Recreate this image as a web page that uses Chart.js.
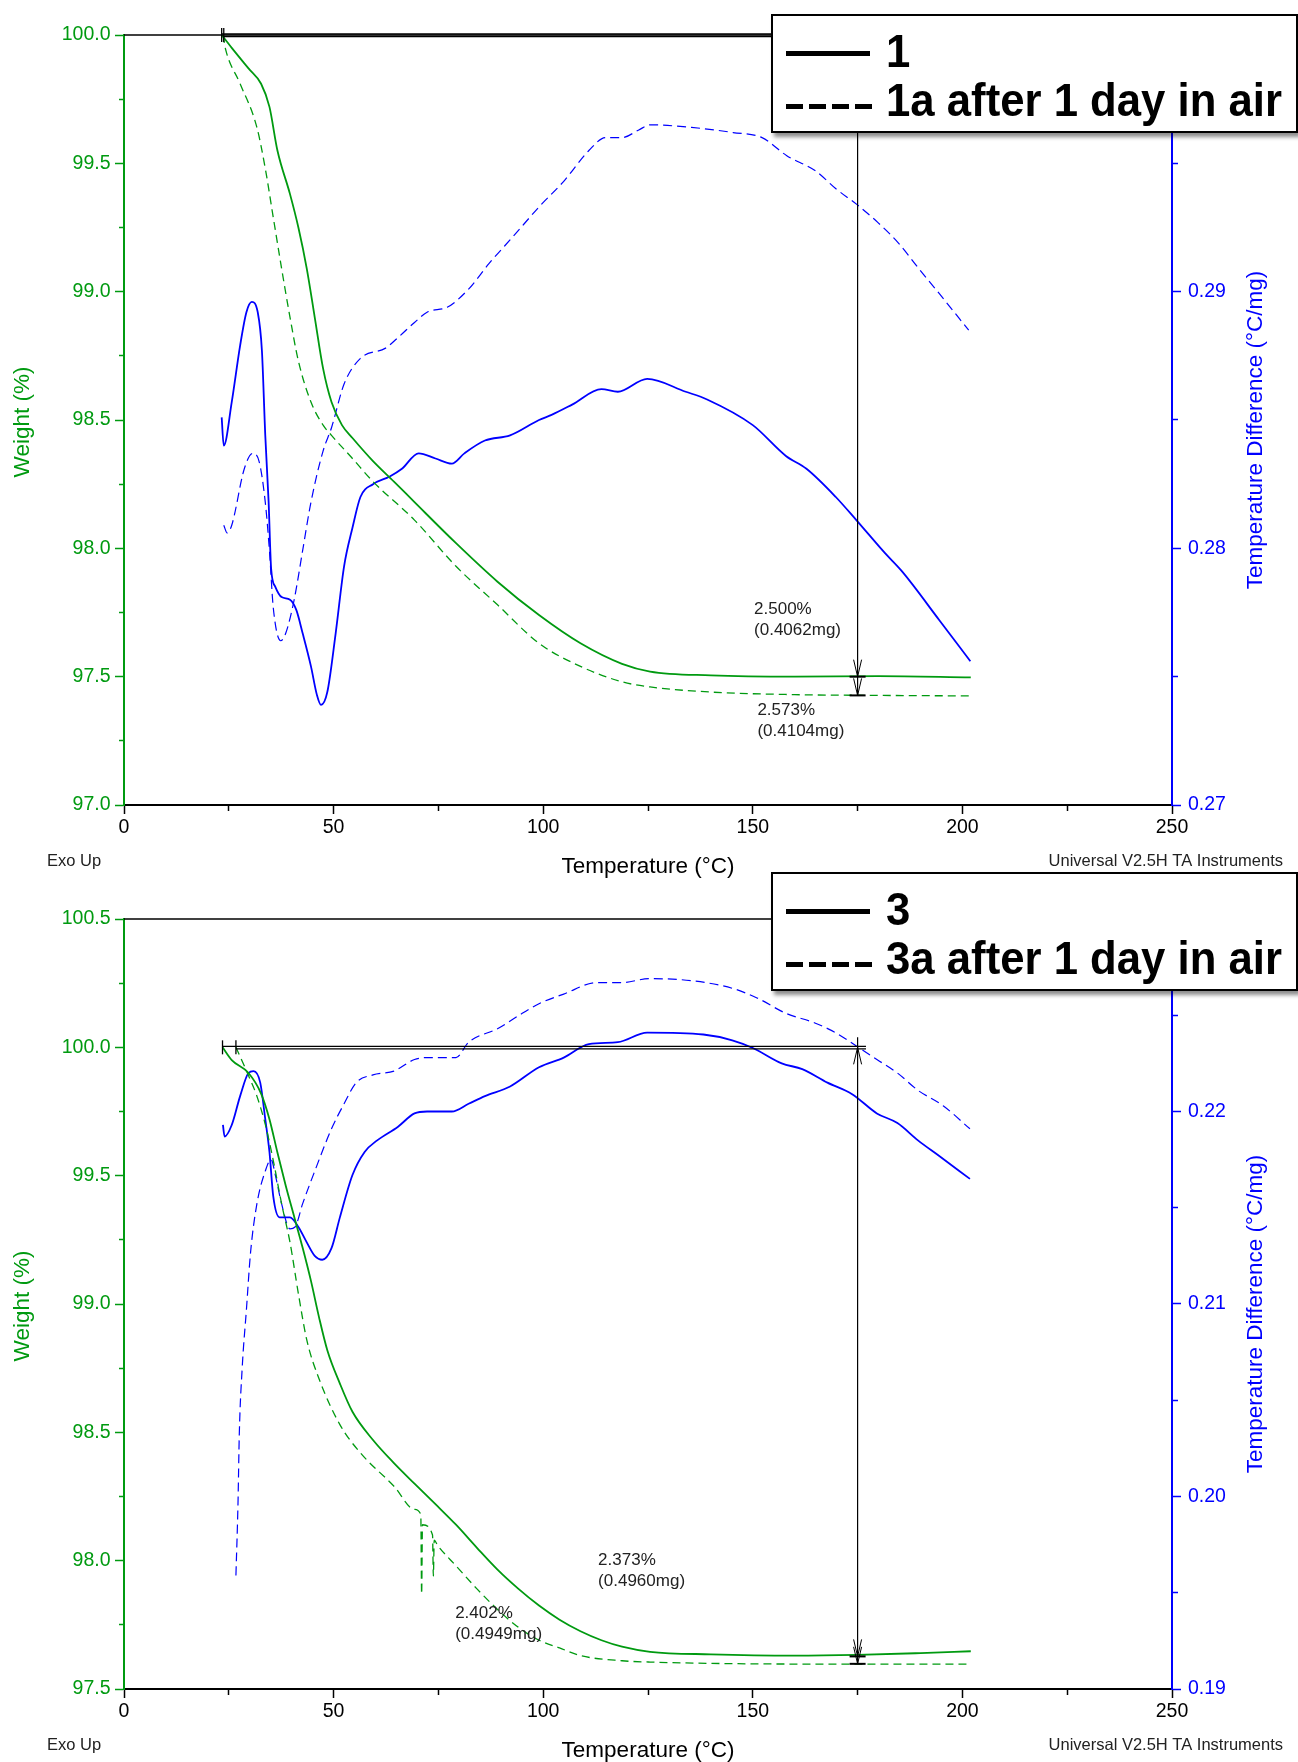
<!DOCTYPE html>
<html>
<head>
<meta charset="utf-8">
<script src="https://cdn.jsdelivr.net/npm/chart.js@4.4.1/dist/chart.umd.min.js"></script>
<style>
  body { margin: 0; background: #fff; }
  #page { position: relative; width: 1298px; height: 1762px; overflow: hidden; }
  .panel { position: absolute; left: 0; width: 1298px; height: 881px; }
  .legend {
    position: absolute; left: 771px; width: 523px; height: 115px;
    border: 2px solid #000; background: #fff;
    box-shadow: 3px 4px 4px rgba(0, 0, 0, 0.45);
    font-family: "Liberation Sans", Arial, sans-serif; font-weight: bold;
  }
  .legend .txt {
    position: absolute; left: 113px; font-size: 47px; line-height: 47px; white-space: nowrap; color: #000;
    transform: scaleX(0.93); transform-origin: left top;
  }
  .legend .solid { position: absolute; left: 13px; top: 35px; width: 84px; height: 5px; background: #000; }
  .legend .dash {
    position: absolute; left: 13px; top: 88px; width: 86px; height: 5px;
    background: repeating-linear-gradient(90deg, #000 0 17px, transparent 17px 23px);
  }
</style>
</head>
<body>
<div id="page">
  <div class="panel" style="top:0"><canvas id="top" width="1298" height="881"></canvas></div>
  <div class="panel" style="top:881px"><canvas id="bottom" width="1298" height="881"></canvas></div>
  <div class="legend" style="top:14px">
    <div class="solid"></div><div class="txt" style="top:11px">1</div>
    <div class="dash"></div><div class="txt" style="top:60px">1a after 1 day in air</div>
  </div>
  <div class="legend" style="top:872px">
    <div class="solid"></div><div class="txt" style="top:11px">3</div>
    <div class="dash"></div><div class="txt" style="top:60px">3a after 1 day in air</div>
  </div>
</div>
<script>
// ---- sample 1 / 1a (top panel) ----
const w1T = [23.3, 25.7, 29.7, 32.7, 34.7, 36.6, 39.6, 41.6, 43.6, 45.5, 47.5, 49.5, 52.0, 54.5, 59.4, 64.4, 69.3, 79.2, 89.1, 99.0, 108.9, 118.8, 125.5, 140, 160, 180, 202];
const w1 = [100.0, 99.95, 99.87, 99.81, 99.72, 99.55, 99.38, 99.25, 99.09, 98.90, 98.70, 98.57, 98.48, 98.43, 98.34, 98.26, 98.18, 98.02, 97.87, 97.74, 97.63, 97.55, 97.52, 97.505, 97.50, 97.502, 97.497];
const w1aT = [23.6, 24.3, 27.7, 31.7, 33.7, 35.6, 37.6, 39.6, 41.6, 44.6, 47.5, 49.5, 54.5, 59.4, 69.3, 79.2, 89.1, 99.0, 108.9, 118.8, 125.5, 140, 160, 180, 202];
const w1a = [100.0, 99.94, 99.81, 99.64, 99.48, 99.29, 99.09, 98.90, 98.73, 98.57, 98.48, 98.44, 98.35, 98.26, 98.11, 97.93, 97.78, 97.63, 97.54, 97.48, 97.46, 97.44, 97.43, 97.427, 97.425];
const d1T = [23.3, 23.8, 25.7, 27.7, 29.2, 30.5, 31.9, 32.9, 33.7, 34.5, 35.1, 36.1, 37.6, 39.6, 41.1, 42.6, 44.6, 46.0, 47.0, 48.5, 50.5, 52.5, 54.5, 56.4, 59.4, 63.4, 66.3, 70.3, 74.3, 78.2, 81.2, 86.1, 92.1, 99.0, 102.0, 106.9, 113.9, 117.8, 124.8, 134.0, 139.1, 150.0, 157.9, 162.8, 169.8, 174.7, 181.6, 185.6, 194.5, 201.9];
const d1 = [0.2851, 0.2840, 0.2857, 0.2879, 0.2892, 0.2896, 0.2892, 0.2877, 0.2844, 0.2818, 0.2792, 0.2785, 0.2781, 0.2780, 0.2776, 0.2767, 0.2754, 0.2743, 0.2739, 0.2744, 0.2767, 0.2793, 0.2808, 0.2820, 0.2825, 0.2828, 0.2831, 0.2837, 0.2835, 0.2833, 0.2837, 0.2842, 0.2844, 0.2850, 0.2852, 0.2856, 0.2862, 0.2861, 0.2866, 0.2861, 0.2858, 0.2848, 0.2836, 0.2831, 0.2820, 0.2811, 0.2798, 0.2791, 0.2772, 0.2756];
const d1aT = [23.8, 24.6, 25.7, 28.7, 30.7, 32.2, 33.7, 34.7, 35.6, 37.4, 38.6, 40.6, 42.6, 44.6, 47.5, 49.5, 52.5, 56.4, 62.4, 65.3, 69.3, 72.3, 77.2, 82.2, 87.1, 93.1, 99.0, 104.9, 110.9, 114.9, 118.8, 122.8, 125.5, 135.4, 145.3, 152.2, 158.1, 165.0, 169.9, 174.8, 179.8, 184.7, 189.6, 194.6, 201.5];
const d1a = [0.2809, 0.2806, 0.2809, 0.2831, 0.2837, 0.2834, 0.2818, 0.2799, 0.2777, 0.2764, 0.2767, 0.2780, 0.2799, 0.2818, 0.2838, 0.2847, 0.2864, 0.2874, 0.2878, 0.2882, 0.2888, 0.2892, 0.2894, 0.2901, 0.2911, 0.2922, 0.2933, 0.2943, 0.2955, 0.2960, 0.2960, 0.2963, 0.2965, 0.2964, 0.2962, 0.2960, 0.2953, 0.2947, 0.2940, 0.2934, 0.2927, 0.2919, 0.2909, 0.2899, 0.2885];

// ---- sample 3 / 3a (bottom panel) ----
const w3T = [23.5, 25.7, 29.7, 32.7, 34.7, 36.6, 38.6, 40.6, 42.6, 44.6, 46.5, 48.5, 51.5, 54.5, 59.4, 64.4, 69.3, 74.3, 79.2, 84.2, 89.1, 94.1, 99.0, 103.9, 108.9, 113.9, 118.8, 125.5, 140, 160, 175, 190, 202];
const w3 = [100.0, 99.95, 99.90, 99.82, 99.72, 99.59, 99.46, 99.34, 99.22, 99.09, 98.95, 98.82, 98.69, 98.58, 98.47, 98.38, 98.30, 98.22, 98.14, 98.05, 97.965, 97.89, 97.825, 97.77, 97.725, 97.69, 97.665, 97.645, 97.635, 97.63, 97.633, 97.64, 97.647];
const w3aT = [26.7, 29.7, 31.7, 33.7, 35.6, 37.6, 39.6, 41.6, 43.6, 46.5, 51.5, 56.4, 64.4, 69.3, 70.8, 71.0, 71.2, 73.6, 73.8, 74.0, 74.8, 79.2, 84.2, 89.1, 94.1, 99.0, 103.9, 108.9, 118.8, 125.5, 150, 175, 202];
const w3a = [100.0, 99.89, 99.81, 99.70, 99.56, 99.39, 99.24, 99.04, 98.86, 98.71, 98.53, 98.42, 98.29, 98.20, 98.18, 97.87, 98.14, 98.10, 97.94, 98.08, 98.06, 97.98, 97.89, 97.81, 97.74, 97.69, 97.66, 97.63, 97.61, 97.605, 97.598, 97.597, 97.597];
const d3T = [23.6, 24.0, 25.7, 27.7, 29.7, 30.9, 32.5, 33.7, 34.7, 35.6, 37.1, 39.6, 41.6, 43.6, 45.5, 47.3, 49.5, 51.5, 54.5, 57.4, 60.4, 65.3, 69.3, 72.3, 78.2, 82.2, 86.1, 92.1, 99.0, 104.9, 110.9, 117.8, 124.8, 138.2, 145.1, 150.0, 156.9, 161.8, 167.8, 173.7, 179.6, 184.5, 189.4, 194.4, 201.8];
const d3 = [0.2193, 0.2187, 0.2193, 0.2208, 0.2220, 0.2221, 0.2215, 0.2196, 0.2179, 0.2156, 0.2145, 0.2145, 0.2140, 0.2132, 0.2125, 0.2123, 0.2129, 0.2145, 0.2167, 0.2179, 0.2185, 0.2192, 0.2199, 0.2200, 0.2200, 0.2204, 0.2208, 0.2213, 0.2223, 0.2228, 0.2235, 0.2236, 0.2241, 0.2240, 0.2237, 0.2233, 0.2225, 0.2222, 0.2215, 0.2209, 0.2199, 0.2194, 0.2185, 0.2177, 0.2165];
const d3aT = [26.7, 27.2, 27.5, 28.2, 29.2, 30.2, 31.7, 33.7, 35.1, 36.1, 37.6, 39.6, 40.8, 42.6, 45.5, 49.5, 52.5, 55.4, 59.4, 64.4, 69.3, 72.3, 79.2, 82.2, 89.1, 95.0, 99.0, 104.9, 112.9, 118.8, 125.4, 135.2, 145.1, 151.0, 157.9, 164.8, 169.7, 174.7, 179.6, 184.5, 189.4, 195.4, 201.8];
const d3a = [0.1959, 0.1997, 0.2032, 0.2067, 0.2097, 0.2127, 0.2152, 0.2169, 0.2175, 0.2167, 0.2152, 0.2139, 0.2140, 0.2152, 0.2169, 0.2191, 0.2204, 0.2215, 0.2219, 0.2221, 0.2227, 0.2228, 0.2228, 0.2236, 0.2243, 0.2251, 0.2256, 0.2261, 0.2267, 0.2267, 0.2269, 0.2268, 0.2264, 0.2259, 0.2251, 0.2246, 0.2241, 0.2234, 0.2227, 0.2220, 0.2211, 0.2203, 0.2191];

// weight-loss step annotations
const loss1 = [2.500, 2.573];
const lossMg1 = ['0.4062mg', '0.4104mg'];
const loss3 = [2.373, 2.402];
const lossMg3 = ['0.4960mg', '0.4949mg'];

const GREEN = '#009a10';
const BLUE = '#0000ff';
const FONT = '"Liberation Sans", Arial, sans-serif';

Chart.defaults.font.family = FONT;

const pts = (xs, ys) => xs.map((x, i) => ({x, y: ys[i]}));
const isMult = (v, step) => Math.abs(v / step - Math.round(v / step)) < 1e-6;

// frame line, step lines, arrows, texts
const taDecor = {
  id: 'taDecor',
  afterDatasetsDraw(chart, args, o) {
    const ctx = chart.ctx, a = chart.chartArea;
    const px = v => chart.scales.x.getPixelForValue(v);
    const py = v => chart.scales.y.getPixelForValue(v);
    const seg = (x1, y1, x2, y2, w) => {
      ctx.lineWidth = w; ctx.beginPath(); ctx.moveTo(x1, y1); ctx.lineTo(x2, y2); ctx.stroke();
    };
    const arrow = (xa, ya, dir) => {
      ctx.lineWidth = 1; ctx.beginPath();
      ctx.moveTo(xa - 4, ya - dir * 17); ctx.lineTo(xa, ya); ctx.lineTo(xa + 4, ya - dir * 17);
      ctx.stroke();
    };
    ctx.save();
    ctx.strokeStyle = '#000';
    seg(a.left, a.top, a.right, a.top, 1.5);

    const y0 = py(100);
    o.startX.forEach((sx, i) => {
      const dy = i ? 1.5 : -1;
      seg(px(sx), y0 + dy, px(o.endX), y0 + dy, 1.4);
      seg(px(sx), y0 - 7, px(sx), y0 + 7, 1.3);
    });
    const xm = px(o.measureX);
    const levels = o.loss.map(l => 100 - l);
    seg(xm, y0 - o.overhang, xm, py(Math.min(...levels)), 1.2);
    levels.forEach(l => {
      const yl = py(l);
      seg(xm - 8, yl, xm + 8, yl, 2);
      arrow(xm, yl, 1);
    });
    if (o.upArrow) arrow(xm, y0, -1);

    ctx.fillStyle = '#222';
    ctx.font = '17px ' + FONT;
    ctx.textAlign = 'left';
    ctx.textBaseline = 'middle';
    o.labels.forEach((p, i) => {
      ctx.fillText(o.loss[i].toFixed(3) + '%', px(p[0]), py(p[1]));
      ctx.fillText('(' + o.mg[i] + ')', px(p[0]), py(p[1]) + 21);
    });
    ctx.restore();
  },
  afterDraw(chart) {
    const ctx = chart.ctx, a = chart.chartArea;
    const midY = (a.top + a.bottom) / 2;
    ctx.save();
    ctx.textAlign = 'center';
    ctx.textBaseline = 'middle';
    ctx.font = '22.5px ' + FONT;
    ctx.fillStyle = GREEN;
    ctx.translate(22.5, midY + 2); ctx.rotate(-Math.PI / 2);
    ctx.fillText('Weight (%)', 0, 0);
    ctx.setTransform(1, 0, 0, 1, 0, 0);
    ctx.fillStyle = BLUE;
    ctx.translate(1256, midY + 10); ctx.rotate(-Math.PI / 2);
    ctx.fillText('Temperature Difference (°C/mg)', 0, 0);
    ctx.setTransform(1, 0, 0, 1, 0, 0);
    ctx.fillStyle = '#000';
    ctx.textBaseline = 'alphabetic';
    ctx.fillText('Temperature (°C)', (a.left + a.right) / 2, a.bottom + 67.5);
    ctx.font = '16.5px ' + FONT;
    ctx.fillStyle = '#222';
    ctx.textAlign = 'left';
    ctx.fillText('Exo Up', 47, a.bottom + 61);
    ctx.textAlign = 'right';
    ctx.fillText('Universal V2.5H TA Instruments', 1283, a.bottom + 61);
    ctx.restore();
  }
};

function makeChart(id, sets, yMin, yMax, y2Min, y2Max, padTop, xHeight, decor) {
  const line = (data, axis, color, width, dash) => ({
    data, yAxisID: axis, borderColor: color, borderWidth: width, borderDash: dash || [],
    pointRadius: 0, fill: false, cubicInterpolationMode: 'monotone'
  });
  return new Chart(document.getElementById(id), {
    type: 'line',
    data: {
      datasets: [
        line(sets[0], 'y', GREEN, 1.8),
        line(sets[1], 'y', GREEN, 1.3, [8, 5]),
        line(sets[2], 'y2', BLUE, 1.8),
        line(sets[3], 'y2', BLUE, 1.2, [9, 5])
      ]
    },
    options: {
      responsive: false,
      animation: false,
      events: [],
      layout: { padding: { top: padTop, left: 0, right: 0, bottom: 0 } },
      plugins: { legend: { display: false }, tooltip: { enabled: false }, taDecor: decor },
      scales: {
        x: {
          type: 'linear', min: 0, max: 250,
          border: { color: '#000', width: 2 },
          grid: {
            drawOnChartArea: false, tickLength: 9, tickColor: '#000', tickWidth: 1.5,
            tickBorderDash: c => isMult(c.tick.value, 50) ? [] : [5, 20]
          },
          ticks: {
            stepSize: 25, maxTicksLimit: 100, autoSkip: false, maxRotation: 0, padding: 2,
            color: '#000', font: { size: 19.5 },
            callback: v => isMult(v, 50) ? String(v) : ''
          },
          afterFit: s => { s.height = xHeight; }
        },
        y: {
          position: 'left', min: yMin, max: yMax,
          border: { color: GREEN, width: 2 },
          grid: {
            drawOnChartArea: false, tickLength: 9, tickColor: GREEN, tickWidth: 1.5,
            tickBorderDash: c => isMult(c.tick.value, 0.5) ? [] : [5, 4],
            tickBorderDashOffset: c => isMult(c.tick.value, 0.5) ? 0 : 5
          },
          ticks: {
            stepSize: 0.25, maxTicksLimit: 100, autoSkip: false, padding: 4.5,
            color: GREEN, font: { size: 19.5 },
            callback: v => isMult(v, 0.5) ? v.toFixed(1) : ''
          },
          afterFit: s => { s.width = 124; }
        },
        y2: {
          position: 'right', min: y2Min, max: y2Max,
          border: { color: BLUE, width: 2 },
          grid: {
            drawOnChartArea: false, tickLength: 9, tickColor: BLUE, tickWidth: 1.5,
            tickBorderDash: c => isMult(c.tick.value, 0.01) ? [] : [5, 20]
          },
          ticks: {
            stepSize: 0.005, maxTicksLimit: 100, autoSkip: false, padding: 7,
            color: BLUE, font: { size: 19.5 },
            callback: v => isMult(v, 0.01) ? v.toFixed(2) : ''
          },
          afterFit: s => { s.width = 126; }
        }
      }
    },
    plugins: [taDecor]
  });
}

makeChart('top',
  [pts(w1T, w1), pts(w1aT, w1a), pts(d1T, d1), pts(d1aT, d1a)],
  97.0, 100.0, 0.27, 0.30, 35, 76,
  { startX: [23.3, 23.8], endX: 176, measureX: 175, overhang: 0, upArrow: false,
    loss: loss1, mg: lossMg1, labels: [[150.3, 97.762], [151.1, 97.368]] });

makeChart('bottom',
  [pts(w3T, w3), pts(w3aT, w3a), pts(d3T, d3), pts(d3aT, d3a)],
  97.5, 100.5, 0.19, 0.23, 38, 73,
  { startX: [23.5, 26.7], endX: 177, measureX: 175, overhang: 10, upArrow: true,
    loss: loss3, mg: lossMg3, labels: [[113.1, 98.0], [79.0, 97.793]] });
</script>
</body>
</html>
